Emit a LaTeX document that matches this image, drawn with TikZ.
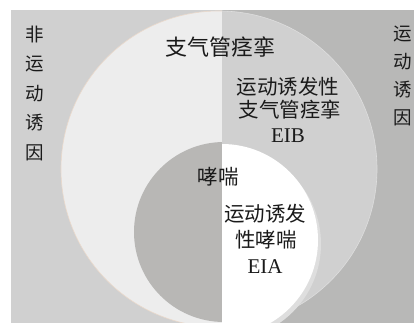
\documentclass[tikz,border=0pt]{standalone}
\usepackage{fontspec}
\setmainfont{Liberation Serif}
\newfontfamily\cjk{Noto Sans CJK SC}
\definecolor{bgL}{HTML}{D0D0D0}
\definecolor{bgR}{HTML}{B8B8B7}
\definecolor{bigL}{HTML}{EDEDED}
\definecolor{bigR}{HTML}{D0D0D0}
\definecolor{smL}{HTML}{B8B7B5}
\definecolor{sliver}{HTML}{DEDEDE}
\definecolor{peach}{HTML}{EAD9CB}
\definecolor{ink}{HTML}{1A1A1A}
\tikzset{
  lbl/.style={inner sep=0pt, text=ink, font=\cjk\fontsize{20.5}{24}\selectfont},
  vlbl/.style={inner sep=0pt, text=ink, align=center, font=\cjk\fontsize{18.5}{29.5}\selectfont},
  latin/.style={inner sep=0pt, text=ink, font=\fontsize{21}{24}\selectfont}
}
\begin{document}
\begin{tikzpicture}[x=1pt,y=-1pt]
\useasboundingbox (0,0) rectangle (414,323);
\fill[white] (0,0) rectangle (414,323);
\begin{scope}
  \clip (11,11) rectangle (414,323);
  % left half
  \begin{scope}
    \clip (0,0) rectangle (222,323);
    \fill[bgL] (0,0) rectangle (222,323);
    \fill[bigL] (219,169) circle[radius=158pt];
    \draw[peach, line width=0.6pt] (219,169) circle[radius=158pt];
    \fill[smL] (224,232) circle[radius=90pt];
  \end{scope}
  % right half
  \begin{scope}
    \clip (222,0) rectangle (414,323);
    \fill[bgR] (222,0) rectangle (414,323);
    \fill[bigR] (219,169) circle[radius=158pt];
    \draw[sliver, line width=0.6pt] (219,169) circle[radius=158pt];
    \fill[sliver] (225,244) circle[radius=96pt];
    \fill[white] (222,240) circle[radius=96pt];
  \end{scope}
\end{scope}
% texts
\node[vlbl] (nonex) at (35,93) {非\\运\\动\\诱\\因};
\node[vlbl, font=\cjk\fontsize{18.5}{28}\selectfont] (ex) at (403,75.5) {运\\动\\诱\\因};
\node[lbl, font=\cjk\fontsize{22}{24}\selectfont] (bronch) at (220,47) {支气管痉挛};
\node[lbl] (eib1) at (288,87) {运动诱发性};
\node[lbl] (eib2) at (290,110) {支气管痉挛};
\node[latin] (eib3) at (288,136) {EIB};
\node[lbl] (asthma) at (218,177) {哮喘};
\node[lbl] (eia1) at (265,214) {运动诱发};
\node[lbl] (eia2) at (266,240) {性哮喘};
\node[latin] (eia3) at (265,267) {EIA};
\end{tikzpicture}
\end{document}
